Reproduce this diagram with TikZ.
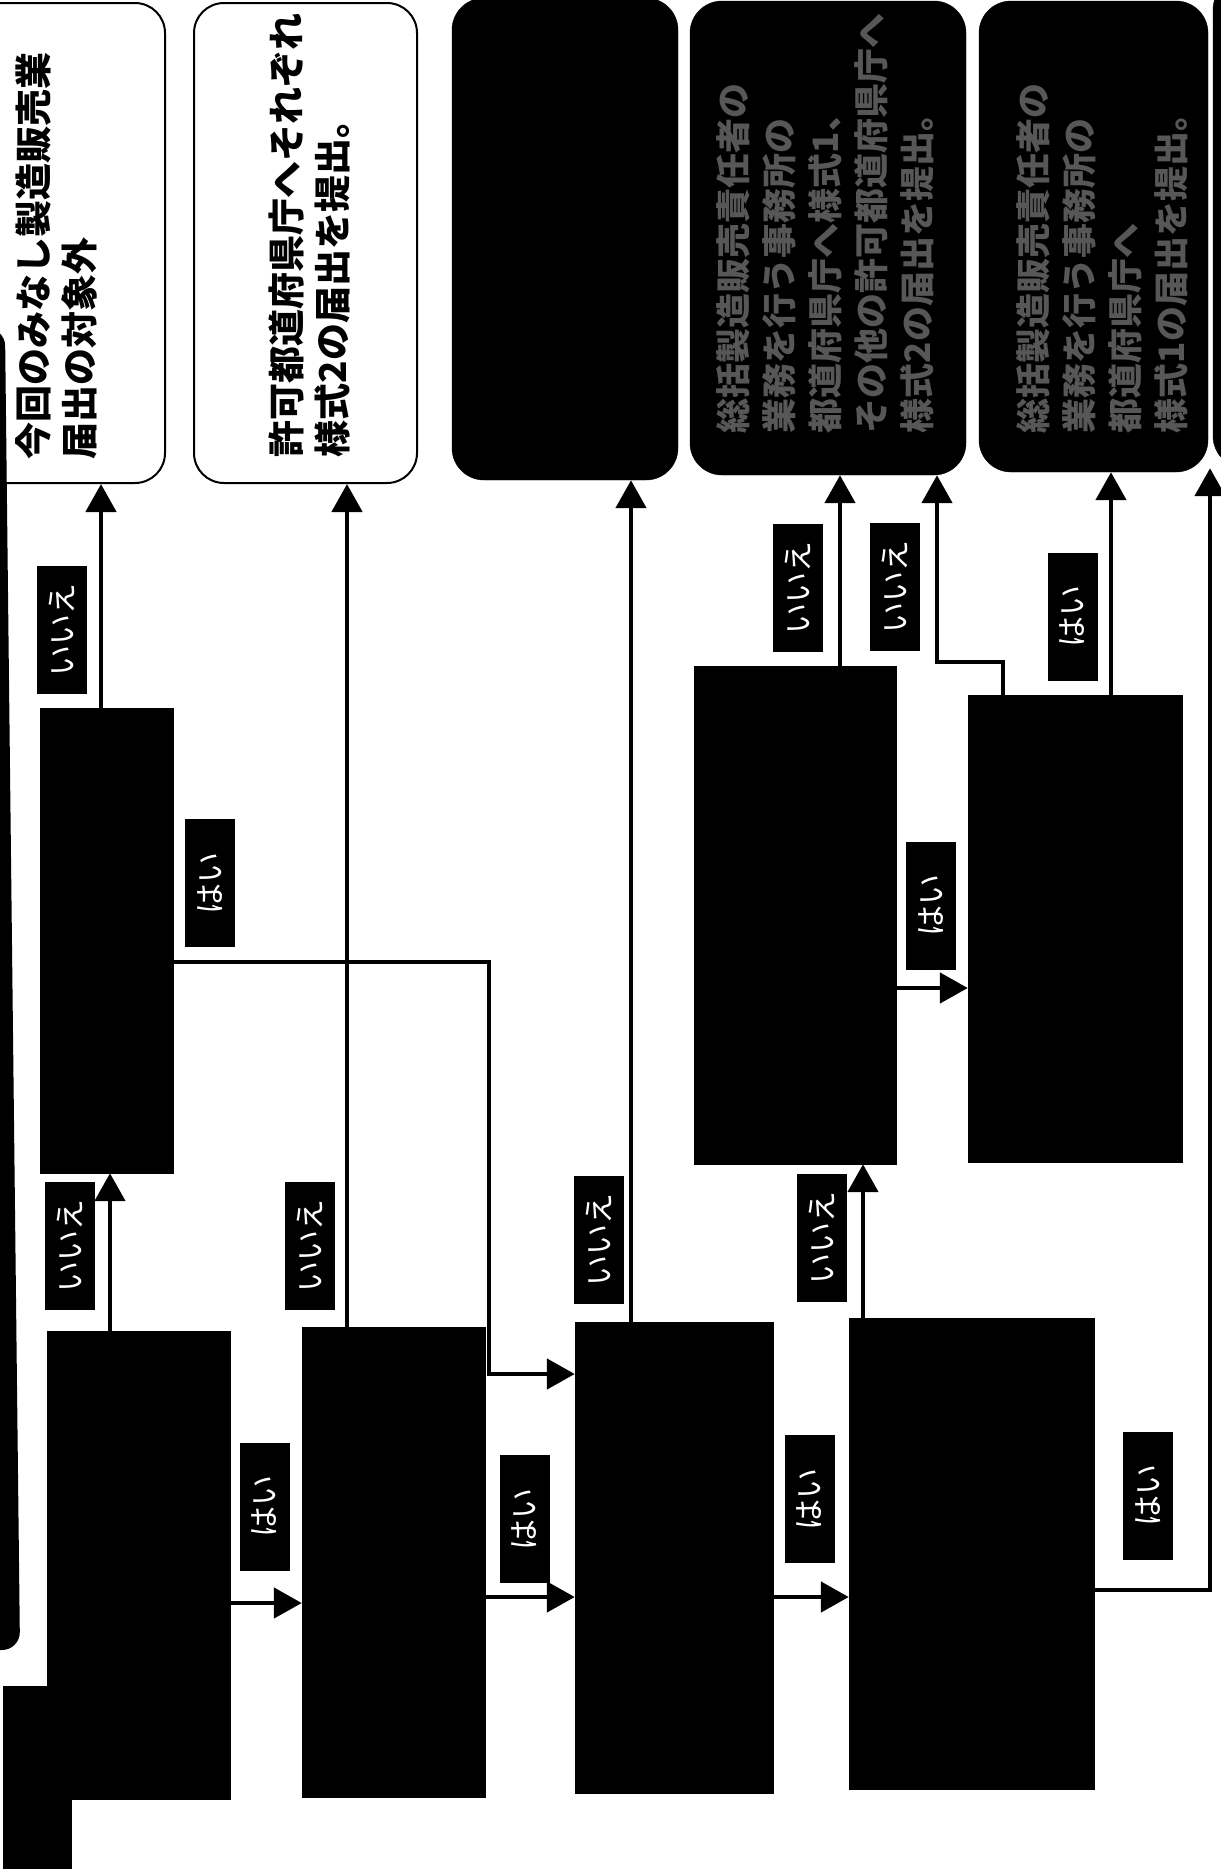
\documentclass[tikz,border=0pt]{standalone}
\usepackage{fontspec}
\setmainfont{Noto Sans CJK JP}
\usetikzlibrary{arrows.meta,positioning,calc}
\tikzset{
  kekka/.style={draw=black, line width=2pt, rounded corners=30pt, fill=white},
  kekkakuro/.style={draw=black, fill=black, rounded corners=32pt},
  shitsumon/.style={draw=black, fill=black},
  hantei/.style={fill=black, text=white, rotate=90, inner sep=0pt,
    minimum width=128pt, minimum height=50pt, font=\fontsize{31}{31}\selectfont},
  nagare/.style={line width=4.8pt, -{Triangle[width=30pt,length=28pt]}},
  bun/.style={rotate=90, align=left, inner sep=0pt, font=\bfseries\fontsize{37}{46}\selectfont},
  usubun/.style={bun, text=black!66, font=\bfseries\fontsize{35}{46}\selectfont},
}
\begin{document}
\begin{tikzpicture}[x=1pt,y=-1pt]
  \useasboundingbox (0,0) rectangle (1221,1869);
  \clip (0,0) rectangle (1221,1869);
  %
  % results (top row)
  \node[kekka, minimum width=225pt, minimum height=480pt] (taisyougai) at (52.5,243) {};
  \node[kekka, minimum width=223pt, minimum height=480pt] (yoshikini) at (305.5,243) {};
  \node[kekkakuro, minimum width=226pt, minimum height=482pt] (kekkaC) at (565,239) {};
  \node[kekkakuro, minimum width=276pt, minimum height=474pt] (kekkaD) at (828,238) {};
  \node[kekkakuro, minimum width=229pt, minimum height=471pt] (kekkaF) at (1093.5,236.5) {};
  \node[kekkakuro, minimum width=90pt, minimum height=490pt] (kekkaG) at (1258,223) {};
  %
  \node[bun] at (56,256) {今回のみなし製造販売業\\届出の対象外};
  \node[bun] at (309.5,235) {許可都道府県庁へそれぞれ\\様式2の届出を提出。};
  \node[usubun] at (825,223) {総括製造販売責任者の\\業務を行う事務所の\\都道府県庁へ様式1、\\その他の許可都道府県庁へ\\様式2の届出を提出。};
  \node[usubun] at (1102.5,258) {総括製造販売責任者の\\業務を行う事務所の\\都道府県庁へ\\様式1の届出を提出。};
  %
  % questions
  \node[shitsumon, minimum width=183pt, minimum height=468pt] (q1) at (138.5,1565) {};
  \node[shitsumon, minimum width=183pt, minimum height=470pt] (q2) at (393.5,1562) {};
  \node[shitsumon, minimum width=198pt, minimum height=471pt] (q3) at (674,1557.5) {};
  \node[shitsumon, minimum width=245pt, minimum height=471pt] (q4) at (971.5,1553.5) {};
  \node[shitsumon, minimum width=133pt, minimum height=465pt] (qa) at (106.5,940.5) {};
  \node[shitsumon, minimum width=202pt, minimum height=498pt] (qb) at (795,915) {};
  \node[shitsumon, minimum width=214pt, minimum height=467pt] (qc) at (1075,928.5) {};
  %
  % cut-off boxes at the left edge
  \fill[rounded corners=18pt] (-40,328) -- (5,328) -- (20,1650) -- (-40,1650) -- cycle;
  \fill (3,1686) rectangle (72,1869);
  %
  \coordinate (s1) at (110,0);
  \coordinate (s2) at (101,0);
  \coordinate (s3) at (347,0);
  \coordinate (s4) at (631,0);
  \coordinate (s5) at (863,0);
  \coordinate (s6) at (840,0);
  \coordinate (s9) at (1111,0);
  \coordinate (h1) at (0,1603);
  \coordinate (h2) at (0,1597);
  \coordinate (h3) at (0,988);
  \coordinate (k1) at (489,962);
  \coordinate (k2) at (489,1374);
  \coordinate (k3) at (1210,1590);
  \coordinate (k4) at (1003,662);
  \coordinate (k5) at (937,662);
  %
  \draw[nagare] (q1.east |- h1) -- (q2.west |- h1);
  \draw[nagare] (q1.north -| s1) -- (qa.south -| s1);
  \draw[nagare] (qa.north -| s2) -- (taisyougai.south -| s2);
  \draw[nagare] (qa.east |- k1) -- (k1) -- (k2) -- (q3.west |- k2);
  \draw[nagare] (q2.north -| s3) -- (yoshikini.south -| s3);
  \draw[nagare] (q2.east |- h2) -- (q3.west |- h2);
  \draw[nagare] (q3.north -| s4) -- (kekkaC.south -| s4);
  \draw[nagare] (q3.east |- h2) -- (q4.west |- h2);
  \draw[nagare] (q4.north -| s5) -- (qb.south -| s5);
  \draw[nagare] (q4.east |- k3) -- (k3) -- (kekkaG.south -| k3);
  \draw[nagare] (qb.north -| s6) -- (kekkaD.south -| s6);
  \draw[nagare] (qb.east |- h3) -- (qc.west |- h3);
  \draw[nagare] (qc.north -| k4) -- (k4) -- (k5) -- (kekkaD.south -| k5);
  \draw[nagare] (qc.north -| s9) -- (kekkaF.south -| s9);
  %
  \node[hantei] at (264.5,1506.5) {はい};
  \node[hantei] at (69.5,1246) {いいえ};
  \node[hantei] at (62,630) {いいえ};
  \node[hantei] at (210,883) {はい};
  \node[hantei] at (310,1246) {いいえ};
  \node[hantei] at (524.5,1519) {はい};
  \node[hantei] at (599,1240) {いいえ};
  \node[hantei] at (809.5,1499) {はい};
  \node[hantei] at (821.5,1237.5) {いいえ};
  \node[hantei] at (1148,1495.5) {はい};
  \node[hantei] at (798,588) {いいえ};
  \node[hantei] at (931,905.5) {はい};
  \node[hantei] at (895,586.5) {いいえ};
  \node[hantei] at (1072.5,616.5) {はい};
  %
\end{tikzpicture}
\end{document}
